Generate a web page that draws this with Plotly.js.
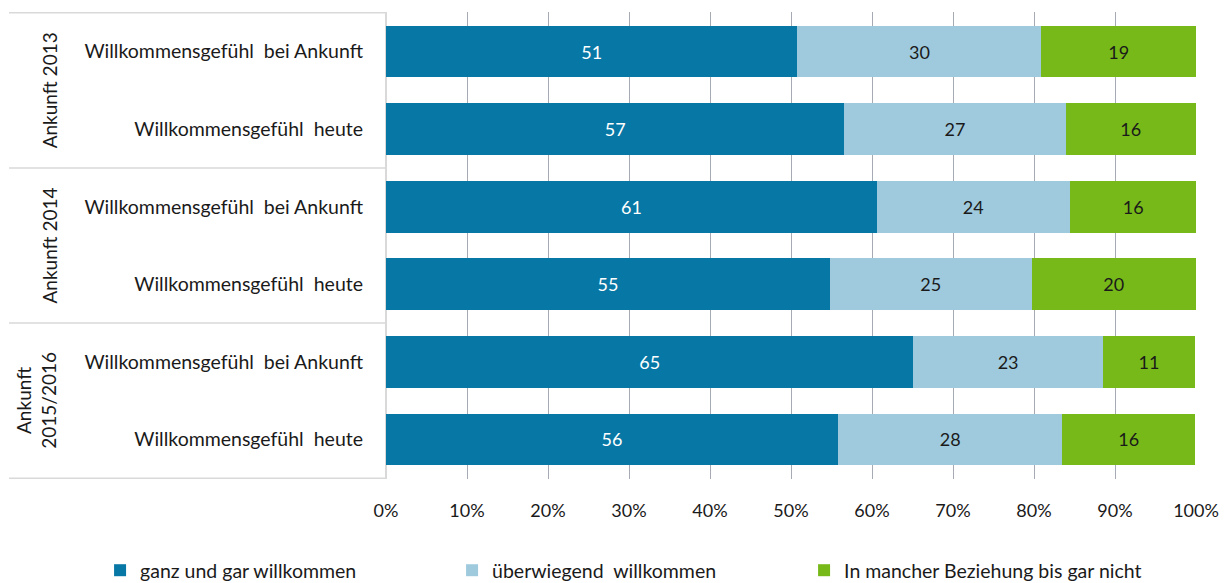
<!DOCTYPE html>
<html>
<head>
<meta charset="utf-8">
<script src="https://cdn.plot.ly/plotly-3.0.1.min.js"></script>
<style>
  html, body { margin: 0; padding: 0; background: #fff; }
  #chart { width: 1226px; height: 583px; }
</style>
</head>
<body>
<div id="chart"></div>
<script>
// Category ids (unique) and their displayed labels
const categories = ["2013_ankunft", "2013_heute", "2014_ankunft", "2014_heute", "2015_ankunft", "2015_heute"];
const categoryLabels = [
  "Willkommensgefühl  bei Ankunft",
  "Willkommensgefühl  heute",
  "Willkommensgefühl  bei Ankunft",
  "Willkommensgefühl  heute",
  "Willkommensgefühl  bei Ankunft",
  "Willkommensgefühl  heute"
];
const groupLabels = ["Ankunft 2013", "Ankunft 2014", "Ankunft<br>2015/2016"];
const groupCenters = [0.5, 2.5, 4.5];

const seriesNames = ["ganz und gar willkommen", "überwiegend  willkommen", "In mancher Beziehung bis gar nicht"];
const ganzWillkommen = [50.8, 56.6, 60.6, 54.8, 65.1, 55.8];
const ueberwiegend   = [30.1, 27.3, 23.8, 24.9, 23.4, 27.7];
const mancher        = [19.1, 16.1, 15.7, 20.3, 11.4, 16.4];
const ganzLabels     = [51, 57, 61, 55, 65, 56];
const ueberLabels    = [30, 27, 24, 25, 23, 28];
const mancherLabels  = [19, 16, 16, 20, 11, 16];

const xTickVals = [0, 10, 20, 30, 40, 50, 60, 70, 80, 90, 100];
const xTickText = ["0%", "10%", "20%", "30%", "40%", "50%", "60%", "70%", "80%", "90%", "100%"];

const colors = ["#0777a5", "#9fcadd", "#77b919"];
const textColors = ["#ffffff", "#1a1a1a", "#1a1a1a"];
const font = "Lato, 'Open Sans', sans-serif";

const valueSets = [ganzWillkommen, ueberwiegend, mancher];
const labelSets = [ganzLabels, ueberLabels, mancherLabels];

const traces = valueSets.map((vals, i) => ({
  type: "bar",
  orientation: "h",
  name: seriesNames[i],
  y: categories,
  x: vals,
  text: labelSets[i].map(String),
  textposition: "inside",
  insidetextanchor: "middle",
  textangle: 0,
  textfont: { family: font, size: 18, color: textColors[i] },
  marker: { color: colors[i], line: { width: 0 } },
  hoverinfo: "skip"
}));

const shapes = [];
[-0.5, 1.5, 3.5, 5.5].forEach(yv => {
  shapes.push({
    type: "line", xref: "paper", yref: "y",
    x0: -0.4654, x1: -0.001, y0: yv, y1: yv,
    line: { color: "#d9d9d9", width: 1.5 }
  });
});

const annotations = groupLabels.map((g, i) => ({
  xref: "paper", yref: "y",
  x: i === 2 ? -0.432 : -0.416,
  y: groupCenters[i],
  text: g,
  textangle: -90,
  showarrow: false,
  font: { family: font, size: 19, color: "#1a1a1a" },
  xanchor: "center", yanchor: "middle"
}));

const layout = {
  width: 1226, height: 583,
  margin: { l: 386, r: 30, t: 11.5, b: 103.7, pad: 0, autoexpand: false },
  paper_bgcolor: "#ffffff",
  plot_bgcolor: "#ffffff",
  barmode: "stack",
  bargap: 0.333,
  showlegend: true,
  legend: {
    orientation: "h",
    xref: "paper", yref: "paper",
    x: -0.353, xanchor: "left",
    y: -0.196, yanchor: "middle",
    font: { family: font, size: 19.5, color: "#1a1a1a" },
    entrywidth: 307, entrywidthmode: "pixels",
    itemwidth: 30,
    traceorder: "normal"
  },
  xaxis: {
    range: [0, 100],
    tickvals: xTickVals,
    ticktext: xTickText,
    showgrid: true,
    gridcolor: "#a6aab3",
    gridwidth: 1,
    zeroline: true,
    zerolinecolor: "#d9d9d9",
    zerolinewidth: 1.5,
    showline: false,
    ticks: "",
    ticklabelstandoff: 19,
    tickfont: { family: font, size: 18, color: "#1a1a1a" },
    fixedrange: true
  },
  yaxis: {
    type: "category",
    categoryorder: "array",
    categoryarray: categories,
    autorange: "reversed",
    tickvals: categories,
    ticktext: categoryLabels,
    showgrid: false,
    zeroline: false,
    showline: false,
    ticks: "",
    ticklabelstandoff: 22,
    tickfont: { family: font, size: 19.5, color: "#1a1a1a" },
    fixedrange: true
  },
  shapes: shapes,
  annotations: annotations
};

Plotly.newPlot("chart", traces, layout, { displayModeBar: false, staticPlot: true });
</script>
</body>
</html>
